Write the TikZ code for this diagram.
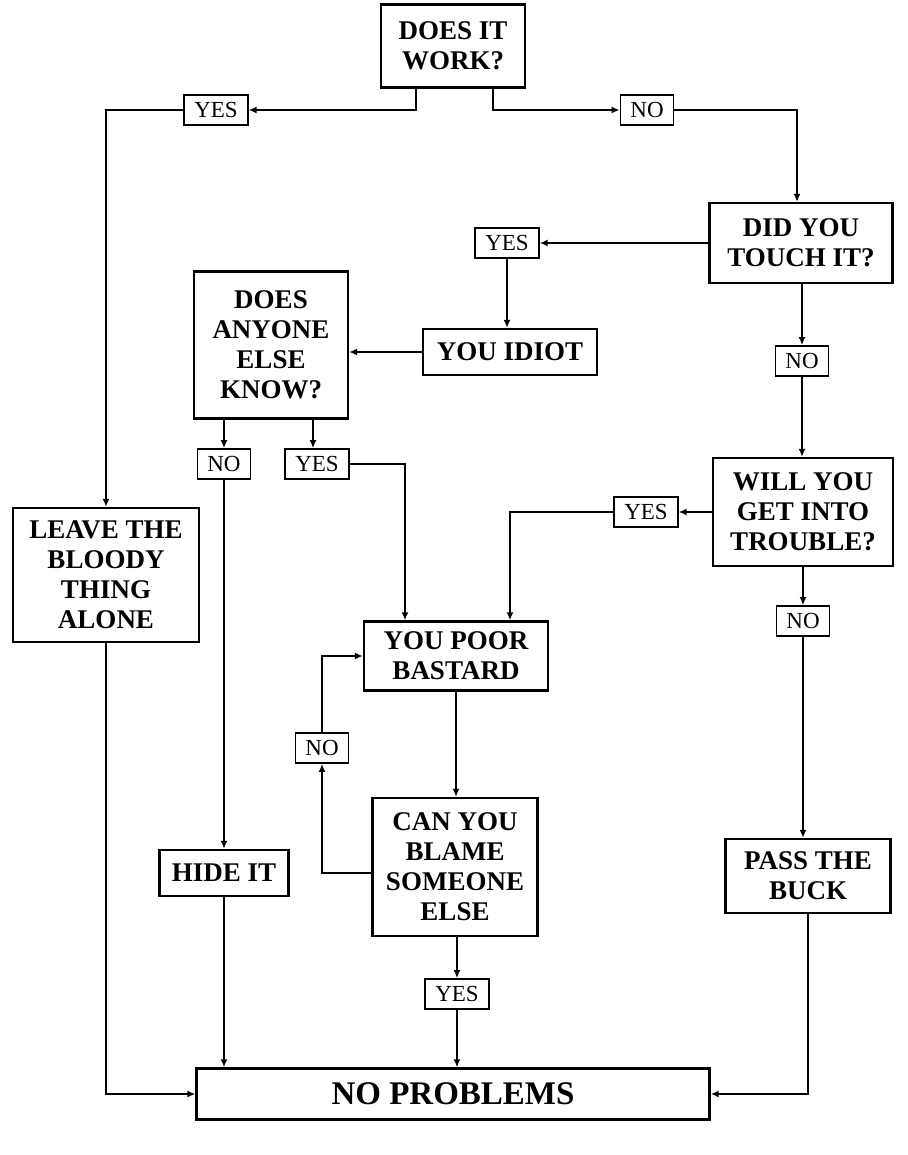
\documentclass[tikz,border=0pt]{standalone}
\usepackage{fontspec}
\setmainfont{Liberation Serif}
\usetikzlibrary{arrows.meta, positioning}
\newcommand{\boxfont}{\fontsize{27}{30}\selectfont\bfseries}
\newcommand{\labfont}{\fontsize{23}{25}\selectfont}

\begin{document}
\begin{tikzpicture}[x=1pt, y=-1pt,
  box/.style={draw, rectangle, line width=2.4pt, align=center, inner sep=0pt, font=\boxfont},
  lab/.style={draw, rectangle, line width=1.7pt, inner xsep=10pt, inner ysep=0pt, minimum height=30pt, font=\labfont},
  arr/.style={-{Latex[length=8pt,width=7pt]}, line width=1.7pt}]
\useasboundingbox (0,0) rectangle (907,1155);
\node[box, minimum width=144pt, minimum height=83pt] (work) at (453,46) {DOES IT\\WORK?};
\node[box, minimum width=183pt, minimum height=80pt] (touch) at (801,243) {DID YOU\\TOUCH IT?};
\node[box, minimum width=174pt, minimum height=46pt] (idiot) at (510,352) {YOU IDIOT};
\node[box, minimum width=154pt, minimum height=147pt] (anyone) at (271,345) {DOES\\ANYONE\\ELSE\\KNOW?};
\node[box, minimum width=180pt, minimum height=108pt] (trouble) at (803,512) {WILL YOU\\GET INTO\\TROUBLE?};
\node[box, minimum width=186pt, minimum height=134pt] (leave) at (106,575) {LEAVE THE\\BLOODY\\THING\\ALONE};
\node[box, minimum width=184pt, minimum height=69pt] (bastard) at (456,656) {YOU POOR\\BASTARD};
\node[box, minimum width=165pt, minimum height=138pt] (blame) at (455,867) {CAN YOU\\BLAME\\SOMEONE\\ELSE};
\node[box, minimum width=129pt, minimum height=46pt] (hide) at (224,873) {HIDE IT};
\node[box, minimum width=165pt, minimum height=74pt] (buck) at (808,876) {PASS THE\\BUCK};
\node[box, minimum width=513pt, minimum height=51pt, font=\fontsize{33}{36}\selectfont\bfseries] (problems) at (453,1094) {NO PROBLEMS};
\node[lab] (yes1) at (216,110) {YES};
\node[lab] (no1) at (647,110) {NO};
\node[lab] (yes2) at (507,243) {YES};
\node[lab] (no2) at (802,361) {NO};
\node[lab] (no3) at (224,464) {NO};
\node[lab] (yes3) at (317,464) {YES};
\node[lab] (yes4) at (646,512) {YES};
\node[lab] (no4) at (803,621) {NO};
\node[lab] (no5) at (322,748) {NO};
\node[lab] (yes5) at (457,994) {YES};
\draw[arr] ([xshift=-37pt]work.south) |- (yes1.east);
\draw[arr] ([xshift=40pt]work.south) |- (no1.west);
\draw[arr] (yes1.west) -| (leave.north);
\draw[arr] (no1.east) -| ([xshift=-4pt]touch.north);
\draw[arr] (touch.west) -- (yes2.east);
\draw[arr] (yes2.south) -- (yes2.south |- idiot.north);
\draw[arr] (idiot.west) -- (idiot.west -| anyone.east);
\draw[arr] (no3.north |- anyone.south) -- (no3.north);
\draw[arr] ([xshift=-4pt]yes3.north |- anyone.south) -- ([xshift=-4pt]yes3.north);
\draw[arr] (no3.south) -- (hide.north);
\draw[arr] (yes3.east) -| ([xshift=-51pt]bastard.north);
\draw[arr] (no2.north |- touch.south) -- (no2.north);
\draw[arr] (no2.south) -- (no2.south |- trouble.north);
\draw[arr] (trouble.west) -- (yes4.east);
\draw[arr] (yes4.west) -| ([xshift=54pt]bastard.north);
\draw[arr] (trouble.south) -- (no4.north);
\draw[arr] (no4.south) -- (no4.south |- buck.north);
\draw[arr] (buck.south) |- (problems.east);
\draw[arr] (leave.south) |- (problems.west);
\draw[arr] (bastard.south) -- (bastard.south |- blame.north);
\draw[arr] ([yshift=-6pt]blame.west) -| (no5.south);
\draw[arr] (no5.north) |- (bastard.west);
\draw[arr] (yes5.north |- blame.south) -- (yes5.north);
\draw[arr] (yes5.south) -- (yes5.south |- problems.north);
\draw[arr] (hide.south) -- (hide.south |- problems.north);
\end{tikzpicture}
\end{document}
